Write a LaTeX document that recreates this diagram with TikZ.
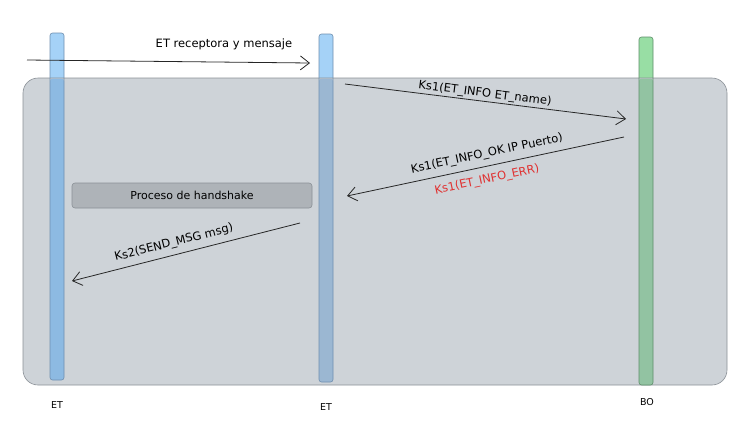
\documentclass[tikz,border=0pt]{standalone}
\usepackage{fontspec}
\setmainfont{DejaVu Sans}
\usetikzlibrary{arrows.meta}
\definecolor{bgray}{HTML}{CED3D8}
\definecolor{bgrayline}{HTML}{8A9096}
\definecolor{hsgray}{HTML}{AEB3B8}
\definecolor{blueTop}{HTML}{A5D2F7}
\definecolor{blueIn}{HTML}{8DBAE2}
\definecolor{blueIn2}{HTML}{9BB7D2}
\definecolor{blueLine}{HTML}{6F8FB0}
\definecolor{greenTop}{HTML}{98DEA4}
\definecolor{greenIn}{HTML}{92C3A2}
\definecolor{greenLine}{HTML}{5E8E6A}
\definecolor{errred}{HTML}{E03131}
\tikzset{
  msg/.style={draw=black!85, line width=0.8pt, -{Straight Barb[length=9pt,width=14pt,line width=0.8pt]}},
  lbl/.style={font=\fontsize{11.5}{13}\selectfont, inner sep=1pt},
  small/.style={font=\fontsize{9.5}{11}\selectfont, inner sep=1pt},
  lifebar/.style={rounded corners=2.5pt, line width=0.6pt},
}
\begin{document}
\begin{tikzpicture}[x=1pt,y=-1pt]
\useasboundingbox (0,0) rectangle (752,432);
% lifeline tops (outside box)
\fill[blueTop, rounded corners=2.5pt] (50,33) rectangle (64,90);
\fill[blueTop, rounded corners=2.5pt] (319,34) rectangle (333,90);
\fill[greenTop, rounded corners=2.5pt] (639,37) rectangle (653,90);
% main box
\node[draw=bgrayline, fill=bgray, rounded corners=15pt, line width=0.6pt, minimum width=704pt, minimum height=307pt, inner sep=0pt] (frame) at (375,231.5) {};
% lifelines inside
\fill[blueIn, rounded corners=2.5pt] (50,78.5) rectangle (64,380);
\fill[blueIn2, rounded corners=2.5pt] (319,78.5) rectangle (333,382);
\fill[greenIn, rounded corners=2.5pt] (639,78.5) rectangle (653,385);
\node[draw=blueLine, lifebar, minimum width=14pt, minimum height=347pt, inner sep=0pt] (l1) at (57,206.5) {};
\node[draw=blueLine, lifebar, minimum width=14pt, minimum height=348pt, inner sep=0pt] (l2) at (326,208) {};
\node[draw=greenLine, lifebar, minimum width=14pt, minimum height=348pt, inner sep=0pt] (l3) at (646,211) {};
% labels under lifelines
\node[small] (t1) at (57,405) {ET};
\node[small] (t2) at (326,407) {ET};
\node[small] (t3) at (647,402) {BO};
% handshake box
\node[draw=bgrayline, fill=hsgray, rounded corners=3pt, line width=0.6pt, minimum width=240pt, minimum height=25pt, inner sep=0pt, font=\fontsize{11}{13}\selectfont] (hs) at (192,195.5) {Proceso de handshake};
% coordinates
\coordinate (a1s) at (27,60);
\coordinate (a1e) at (310,63);
\coordinate (a2s) at (345,84);
\coordinate (a2e) at (626,119);
\coordinate (a3s) at (624,137);
\coordinate (a3e) at (347,196);
\coordinate (a4s) at (300,223);
\coordinate (a4e) at (72,281);
% messages
\draw[msg] (a1s) -- (a1e);
\node[lbl] (m1) at (224,44) {ET receptora y mensaje};
\draw[msg] (a2s) -- (a2e);
\node[lbl, rotate=-7.1] (m2) at (485,94) {Ks1(ET\_INFO ET\_name)};
\draw[msg] (a3s) -- (a3e);
\node[lbl, rotate=12] (m3) at (487,154) {Ks1(ET\_INFO\_OK IP Puerto)};
\node[lbl, rotate=12, text=errred] (m3b) at (487,180) {Ks1(ET\_INFO\_ERR)};
\draw[msg] (a4s) -- (a4e);
\node[lbl, rotate=14.3] (m4) at (174,243) {Ks2(SEND\_MSG msg)};
\end{tikzpicture}
\end{document}
